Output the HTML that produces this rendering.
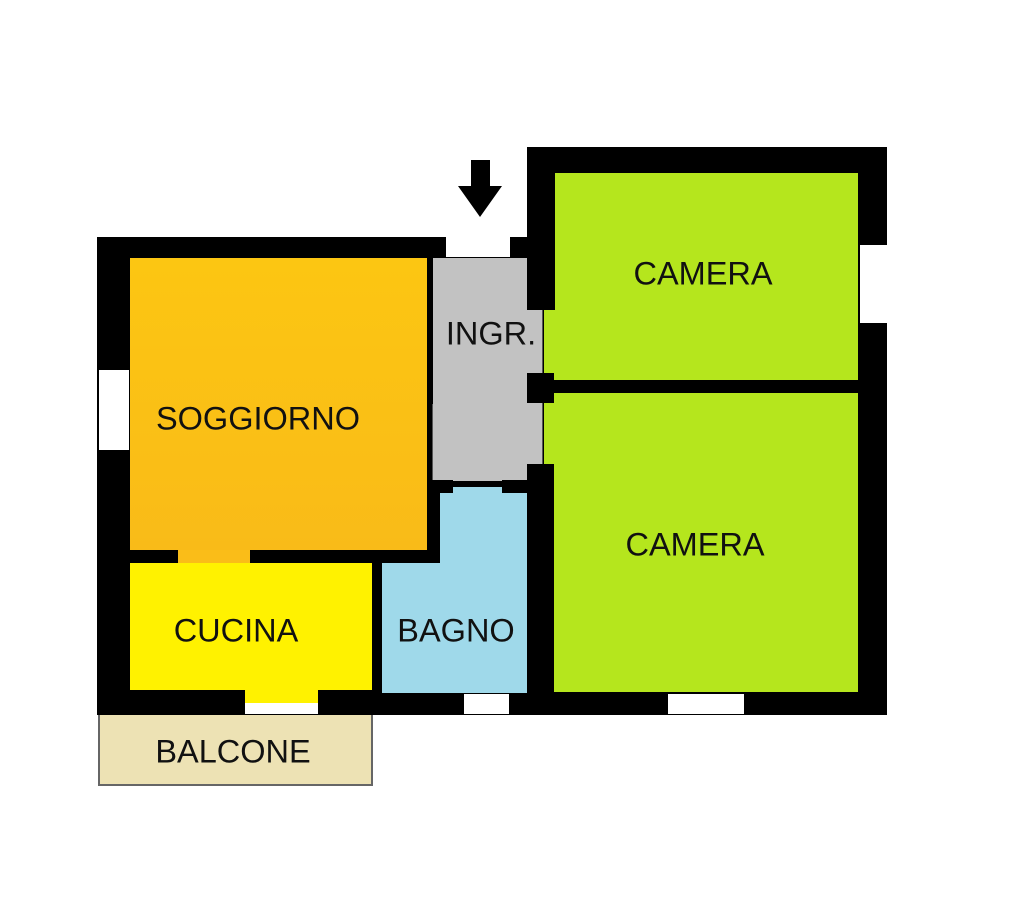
<!DOCTYPE html>
<html><head><meta charset="utf-8"><style>
html,body{margin:0;padding:0;background:#fff;}
body{width:1024px;height:899px;position:relative;overflow:hidden;font-family:"Liberation Sans",Arial,sans-serif;}
div{position:absolute;box-sizing:border-box;}
.t{font-size:32.5px;color:#111;white-space:nowrap;transform:translate(-50%,-50%);}
</style></head><body>
<div style="left:97px;top:237px;width:431px;height:478px;background:#000"></div>
<div style="left:527px;top:147px;width:360px;height:568px;background:#000"></div>
<div style="left:130px;top:258px;width:297px;height:292px;background:linear-gradient(#fcc612,#f9bb18)"></div>
<div style="left:432px;top:258px;width:111px;height:223px;background:#c2c2c2;border-right:1px solid #555"></div>
<div style="left:432px;top:404px;width:1px;height:77px;background:#555"></div>
<div style="left:427px;top:258px;width:6px;height:146px;background:#000"></div>
<div style="left:527px;top:258px;width:27px;height:52px;background:#000"></div>
<div style="left:555px;top:173px;width:303px;height:207px;background:#b5e61d"></div>
<div style="left:544px;top:310px;width:11px;height:70px;background:#b5e61d"></div>
<div style="left:544px;top:393px;width:314px;height:299px;background:#b5e61d"></div>
<div style="left:527px;top:373px;width:27px;height:30px;background:#000"></div>
<div style="left:527px;top:464px;width:27px;height:251px;background:#000"></div>
<div style="left:440px;top:487px;width:87px;height:80px;background:#9fd9ea"></div>
<div style="left:382px;top:563px;width:145px;height:130px;background:#9fd9ea"></div>
<div style="left:427px;top:480px;width:26px;height:13px;background:#000"></div>
<div style="left:502px;top:480px;width:25px;height:13px;background:#000"></div>
<div style="left:130px;top:563px;width:242px;height:127px;background:#fff200"></div>
<div style="left:178px;top:550px;width:72px;height:13px;background:#fabd18"></div>
<div style="left:245px;top:690px;width:73px;height:13px;background:#fff200"></div>
<div style="left:446px;top:237px;width:64px;height:20px;background:#fff"></div>
<div style="left:99px;top:370px;width:30px;height:80px;background:#fff"></div>
<div style="left:860px;top:245px;width:27px;height:78px;background:#fff"></div>
<div style="left:245px;top:703px;width:73px;height:11px;background:#fff"></div>
<div style="left:464px;top:694px;width:45px;height:20px;background:#fff"></div>
<div style="left:668px;top:694px;width:76px;height:20px;background:#fff"></div>
<div style="left:98px;top:715px;width:275px;height:71px;background:#ede2b4;border:2px solid #666;border-top:none"></div>
<svg style="position:absolute;left:0;top:0" width="1024" height="899"><rect x="471" y="160" width="19" height="27" fill="#000"/><polygon points="458,186 502,186 480,217" fill="#000"/></svg>
<div class="t" style="left:258px;top:419px">SOGGIORNO</div>
<div class="t" style="left:491px;top:334px">INGR.</div>
<div class="t" style="left:703px;top:274px">CAMERA</div>
<div class="t" style="left:695px;top:545px">CAMERA</div>
<div class="t" style="left:236px;top:631px">CUCINA</div>
<div class="t" style="left:456px;top:631px">BAGNO</div>
<div class="t" style="left:233px;top:752px">BALCONE</div>
</body></html>
